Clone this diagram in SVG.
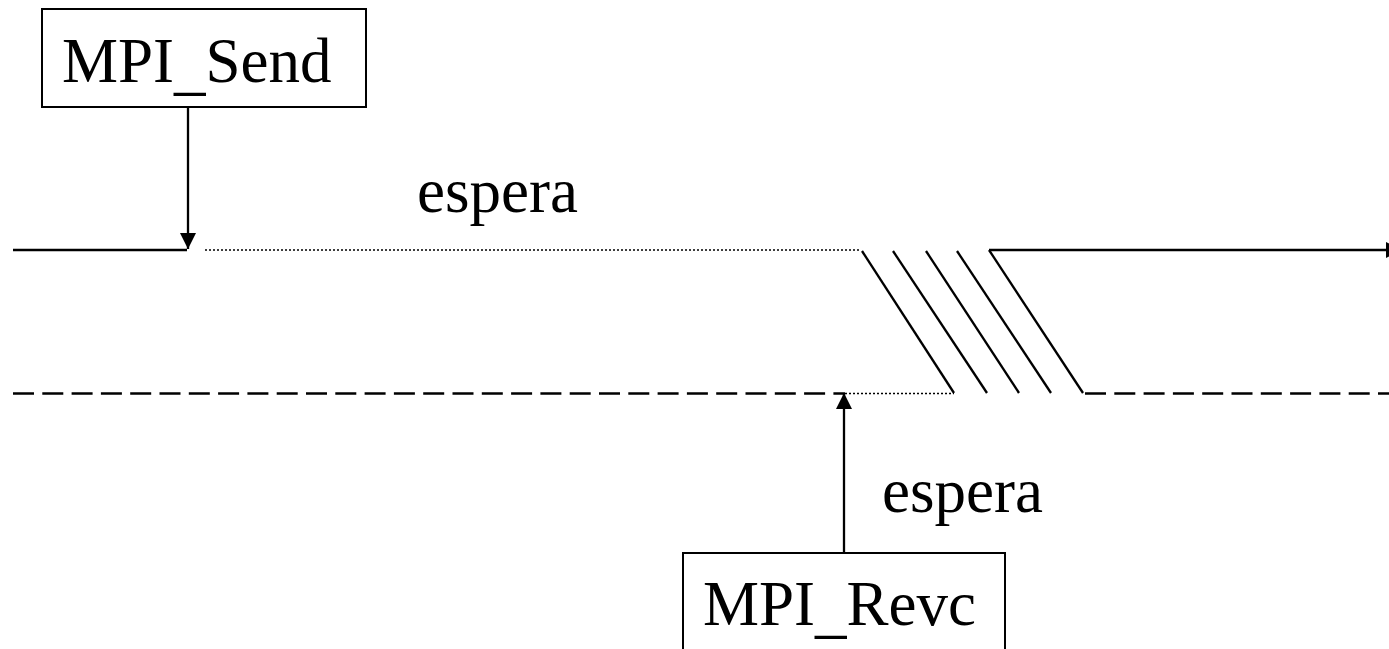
<svg xmlns="http://www.w3.org/2000/svg" width="1389" height="649" viewBox="0 0 1389 649">
<style>
.box{fill:#fff;stroke:#000;stroke-width:2}
.lbl{font-family:"Liberation Serif","Times New Roman",serif;font-size:63px;fill:#000}
.solid{stroke:#000;stroke-width:2.3;fill:none}
.dot{stroke:#000;stroke-width:1.5;stroke-dasharray:2,2;fill:none}
.dash{stroke:#000;stroke-width:2.5;stroke-dasharray:21,8.3;fill:none}
</style>
<defs>
<marker id="ah" viewBox="0 0 16 16" refX="16" refY="8" markerWidth="16" markerHeight="16" markerUnits="userSpaceOnUse" orient="auto">
<path d="M0,0 L16,8 L0,16 Z" fill="#000"/>
</marker>
</defs>
<rect width="1389" height="649" fill="#fff"/>
<g id="connectors">
<line class="solid" x1="13" y1="250" x2="187" y2="250"/>
<line class="dot" x1="205" y1="250" x2="860" y2="250"/>
<line class="solid" x1="989" y1="250" x2="1386" y2="250"/>
<path d="M1386,242 L1386,258 L1402,250 Z" fill="#000"/>
<line class="dash" x1="13" y1="393.5" x2="845" y2="393.5"/>
<line class="dot" x1="845" y1="393.5" x2="954" y2="393.5"/>
<line class="dash" x1="1085" y1="393.5" x2="1389" y2="393.5"/>
<line class="solid" x1="862" y1="251" x2="954" y2="393"/>
<line class="solid" x1="893" y1="251" x2="987" y2="393"/>
<line class="solid" x1="926" y1="251" x2="1019" y2="393"/>
<line class="solid" x1="957" y1="251" x2="1051" y2="393"/>
<line class="solid" x1="989" y1="250" x2="1083" y2="393"/>
<line class="solid" x1="188" y1="107" x2="188" y2="249" marker-end="url(#ah)"/>
<line class="solid" x1="844" y1="553" x2="844" y2="393" marker-end="url(#ah)"/>
</g>
<g id="send">
<rect class="box" x="42" y="9" width="324" height="98"/>
<text class="lbl" x="62" y="82">MPI<tspan dy="6">_</tspan><tspan dy="-6">Send</tspan></text>
</g>
<g id="revc">
<rect class="box" x="683" y="553" width="322" height="110"/>
<text class="lbl" x="703" y="625">MPI<tspan dy="6">_</tspan><tspan dy="-6">Revc</tspan></text>
</g>
<g id="espera1">
<text class="lbl" x="417" y="212">espera</text>
</g>
<g id="espera2">
<text class="lbl" x="882" y="512">espera</text>
</g>
</svg>
